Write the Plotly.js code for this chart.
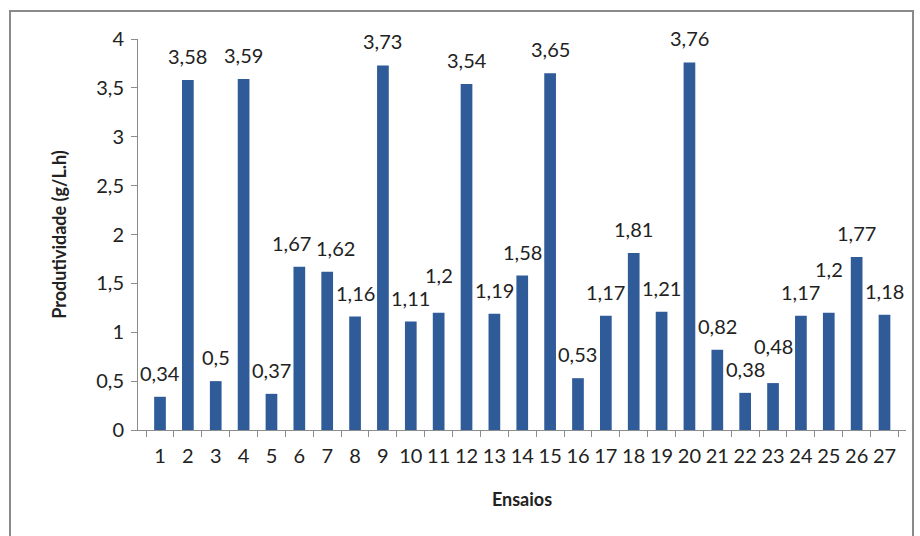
<!DOCTYPE html>
<html>
<head>
<meta charset="utf-8">
<script src="https://cdn.plot.ly/plotly-3.0.1.min.js"></script>
<style>
  html, body { margin: 0; padding: 0; background: #ffffff; }
  #chart { width: 920px; height: 536px; }
</style>
</head>
<body>
<div id="chart"></div>
<script>
// Ensaios (trial numbers) and measured productivity in g/L.h
const ensaios = ['1','2','3','4','5','6','7','8','9','10','11','12','13','14',
                 '15','16','17','18','19','20','21','22','23','24','25','26','27'];
const produtividade = [0.34, 3.58, 0.50, 3.59, 0.37, 1.67, 1.62, 1.16, 3.73, 1.11,
                       1.20, 3.54, 1.19, 1.58, 3.65, 0.53, 1.17, 1.81, 1.21, 3.76,
                       0.82, 0.38, 0.48, 1.17, 1.20, 1.77, 1.18];
const yTicks = [0, 0.5, 1, 1.5, 2, 2.5, 3, 3.5, 4];
const yTickText = ['0', '0,5', '1', '1,5', '2', '2,5', '3', '3,5', '4'];

// decimal comma, trailing zeros dropped (0.50 -> "0,5")
const fmt = v => String(Number(v.toFixed(2))).replace('.', ',');

const FONT = 'Lato, "Open Sans", "DejaVu Sans", sans-serif';
const LABEL_SIZE = 20;
const TEXT = '#222222';
const AXIS = '#8c8c8c';

const trace = {
  type: 'bar',
  x: ensaios,
  y: produtividade,
  marker: { color: '#2f5b99', line: { width: 0 } },
  hoverinfo: 'x+y'
};

// value labels above each bar (x given as category index)
const BASE_SHIFT = 10;
const labels = ensaios.map((c, i) => ({
  x: i, y: produtividade[i], xref: 'x', yref: 'y',
  text: fmt(produtividade[i]),
  showarrow: false, yanchor: 'bottom', yshift: BASE_SHIFT, xshift: 0,
  font: { family: FONT, size: LABEL_SIZE, color: TEXT }
}));

const layout = {
  width: 920, height: 536,
  margin: { l: 138, r: 14, t: 39, b: 106 },
  paper_bgcolor: '#ffffff',
  plot_bgcolor: '#ffffff',
  bargap: 0.58,
  showlegend: false,
  font: { family: FONT, size: 20, color: TEXT },
  xaxis: {
    type: 'category',
    showgrid: false,
    showline: true, linecolor: AXIS, linewidth: 1,
    ticks: 'outside', tickson: 'boundaries', ticklen: 6, tickcolor: AXIS,
    ticklabelstandoff: 8,
    tickfont: { family: FONT, size: 20, color: TEXT },
    tickangle: 0,
    title: { text: 'Ensaios', standoff: 27,
             font: { family: FONT, size: 18, color: TEXT, weight: 'bold' } }
  },
  yaxis: {
    range: [0, 4],
    tickvals: yTicks, ticktext: yTickText,
    showgrid: false, zeroline: false,
    showline: true, linecolor: AXIS, linewidth: 1,
    ticks: 'outside', ticklen: 6, tickcolor: AXIS,
    ticklabelstandoff: 3,
    tickfont: { family: FONT, size: 20, color: TEXT },
    title: { text: 'Produtividade (g/L.h)', standoff: 24,
             font: { family: FONT, size: 18, color: TEXT, weight: 'bold' } }
  },
  annotations: labels,
  shapes: [{
    // chart-area frame
    type: 'rect', xref: 'paper', yref: 'paper', layer: 'below',
    x0: (10 - 138) / 768, x1: (913 - 138) / 768,
    y0: (430 - 545) / 391, y1: (430 - 11) / 391,
    line: { color: '#8a8a8a', width: 2 }, fillcolor: 'rgba(0,0,0,0)'
  }]
};

const gd = document.getElementById('chart');

// Keep neighbouring value labels from colliding: a taller bar's label is
// lifted above its neighbour, a shorter one is nudged sideways instead.
function spreadLabels() {
  const xa = gd._fullLayout.xaxis, ya = gd._fullLayout.yaxis;
  const ctx = document.createElement('canvas').getContext('2d');
  ctx.font = LABEL_SIZE + 'px Lato';
  const h = LABEL_SIZE + 2;
  const boxes = labels.map((a, i) => ({
    cx: xa.l2p(i), base: ya.l2p(produtividade[i]),
    w: ctx.measureText(a.text).width + 4, xs: 0, ys: BASE_SHIFT
  }));
  const rect = b => ({ l: b.cx + b.xs - b.w / 2, r: b.cx + b.xs + b.w / 2,
                       b: b.base - b.ys, t: b.base - b.ys - h });
  const hit = (p, q) => { const a = rect(p), c = rect(q);
    return a.l < c.r && c.l < a.r && a.t < c.b && c.t < a.b; };
  for (let i = 1; i < boxes.length; i++) {
    const cur = boxes[i], prev = boxes[i - 1];
    let guard = 0;
    if (produtividade[i] >= produtividade[i - 1]) {
      while (hit(cur, prev) && guard++ < 200) cur.ys += 1;
    } else {
      while (hit(cur, prev) && guard++ < 200) { cur.xs += 1; prev.xs -= 1; }
    }
  }
  const upd = {};
  boxes.forEach((b, i) => {
    upd['annotations[' + i + '].yshift'] = b.ys;
    upd['annotations[' + i + '].xshift'] = b.xs;
  });
  return Plotly.relayout(gd, upd);
}

Plotly.newPlot(gd, [trace], layout, { displayModeBar: false, staticPlot: true })
  .then(spreadLabels);
</script>
</body>
</html>
